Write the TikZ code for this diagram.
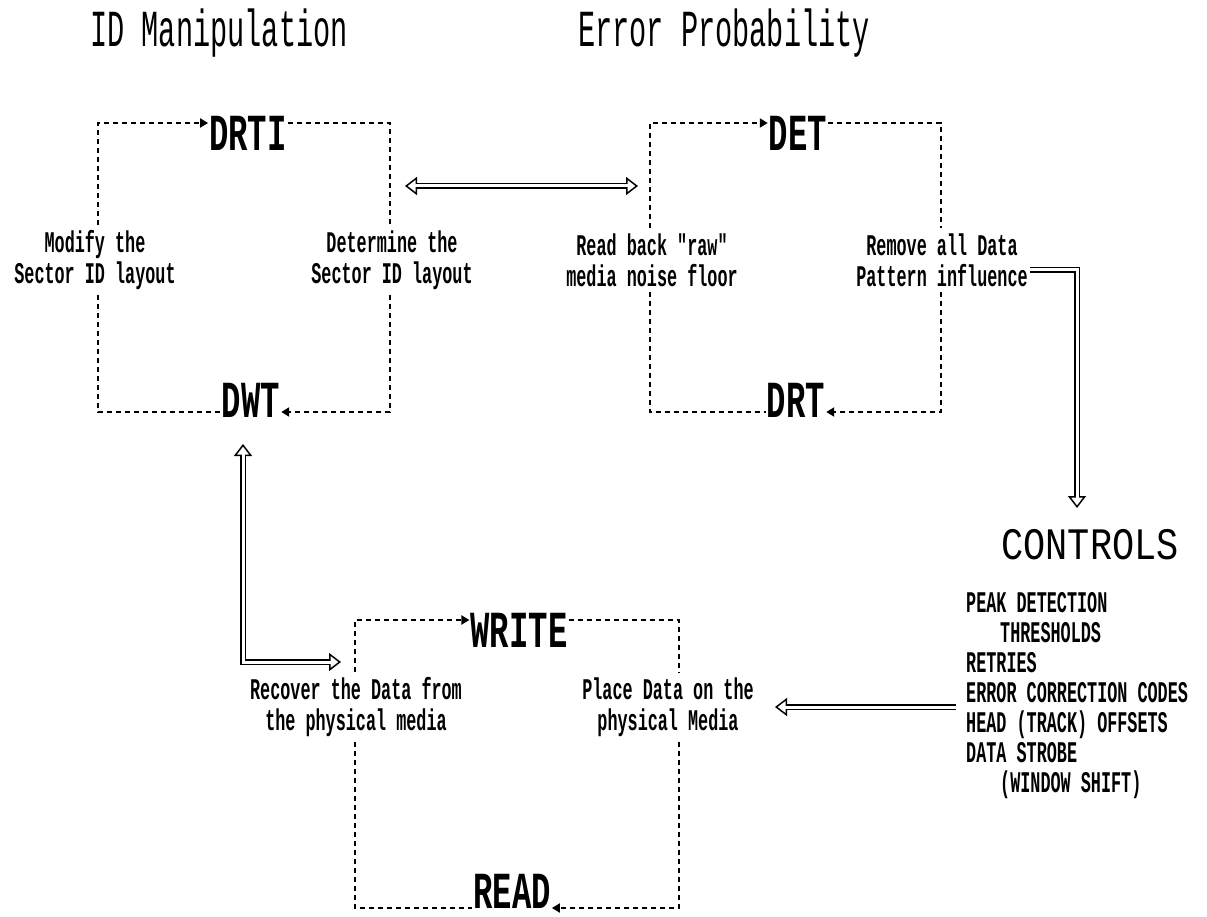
\documentclass[tikz,border=0pt]{standalone}
\usepackage{fontspec}
\usetikzlibrary{arrows.meta}
\newfontfamily\titlefont[FakeStretch=0.55]{Liberation Mono}
\newfontfamily\namefont[FakeStretch=0.62]{Liberation Mono}
\newfontfamily\ctlfont[FakeStretch=0.82]{Liberation Mono}
\newfontfamily\lblfont[FakeStretch=0.56]{Liberation Mono}
\tikzset{
  ttl/.style={font=\titlefont\fontsize{52}{52}\selectfont, inner sep=0pt},
  bname/.style={font=\namefont\bfseries\fontsize{52}{52}\selectfont, inner sep=1pt},
  ctl/.style={font=\ctlfont\fontsize{45}{45}\selectfont, inner sep=0pt},
  lbl/.style={font=\lblfont\bfseries\fontsize{30}{31}\selectfont, align=center, inner sep=5pt},
  lst/.style={font=\lblfont\bfseries\fontsize{30}{30}\selectfont, align=left, inner sep=0pt},
  dsh/.style={line width=2pt, dash pattern=on 5pt off 4pt},
  stip/.style={-{Triangle[length=8pt,width=9pt]}},
  dbl/.style={line width=6pt, line join=miter,
    postaction={draw, white, line width=3pt, -, shorten >=10pt}},
  dblb/.style={line width=6pt, line join=miter,
    postaction={draw, white, line width=3pt, -, shorten >=10pt, shorten <=10pt}},
  htip/.tip={Triangle[open, length=12pt, width=18pt, line width=1.5pt]}
}
\begin{document}
\begin{tikzpicture}[x=1pt,y=-1pt]
\useasboundingbox (0,0) rectangle (1207,917);
% titles
\node[ttl, anchor=base] (t1) at (219,47) {ID Manipulation};
\node[ttl, anchor=base] (t2) at (724,47) {Error Probability};

% ---- box 1
\coordinate (A1) at (98,123);
\coordinate (A2) at (390,123);
\coordinate (A3) at (390,412);
\coordinate (A4) at (98,412);
\node[bname] (drti) at (248,133) {DRTI};
\node[bname] (dwt) at (251,400) {DWT};
\node[lbl] (mod) at (95,260) {Modify the\\Sector ID layout};
\node[lbl] (detm) at (392,260) {Determine the\\Sector ID layout};
\draw[dsh, stip] (A1 |- mod.north) -- (A1) -- (A1 -| drti.west);
\draw[dsh] (A2 -| drti.east) -- (A2) -- (A2 |- detm.north);
\draw[dsh, stip] (A3 |- detm.south) -- (A3) -- (A3 -| dwt.east);
\draw[dsh] (A4 |- mod.south) -- (A4) -- (A4 -| dwt.west);

% ---- box 2
\coordinate (B1) at (650,123);
\coordinate (B2) at (941,123);
\coordinate (B3) at (941,412);
\coordinate (B4) at (650,412);
\node[bname] (det) at (798,133) {DET};
\node[bname] (drt) at (796,400) {DRT};
\node[lbl] (raw) at (652,260) {Read back "raw"\\media noise floor};
\node[lbl] (rem) at (942,260) {Remove all Data\\Pattern influence};
\draw[dsh, stip] (B1 |- raw.north) -- (B1) -- (B1 -| det.west);
\draw[dsh] (B2 -| det.east) -- (B2) -- (B2 |- rem.north);
\draw[dsh, stip] (B3 |- rem.south) -- (B3) -- (B3 -| drt.east);
\draw[dsh] (B4 |- raw.south) -- (B4) -- (B4 -| drt.west);

% ---- box 3
\coordinate (C1) at (355,620);
\coordinate (C2) at (679,620);
\coordinate (C3) at (679,908);
\coordinate (C4) at (355,908);
\node[bname] (write) at (519,630) {WRITE};
\node[bname] (read) at (512,891) {READ};
\node[lbl] (rec) at (356,707) {Recover the Data from\\the physical media};
\node[lbl] (place) at (668,707) {Place Data on the\\physical Media};
\draw[dsh, stip] (C1 |- rec.north) -- (C1) -- (C1 -| write.west);
\draw[dsh] (C2 -| write.east) -- (C2) -- (C2 |- place.north);
\draw[dsh, stip] (C3 |- place.south) -- (C3) -- (C3 -| read.east);
\draw[dsh] (C4 |- rec.south) -- (C4) -- (C4 -| read.west);

% ---- controls
\node[ctl] (ctrl) at (1090,545) {CONTROLS};
\node[lst, anchor=north west] (list) at (966,592) {PEAK DETECTION\\
\hspace*{34pt}THRESHOLDS\\
RETRIES\\
ERROR CORRECTION CODES\\
HEAD (TRACK) OFFSETS\\
DATA STROBE\\
\hspace*{34pt}(WINDOW SHIFT)};

% ---- double arrows
\coordinate (h1) at (405,186);
\coordinate (h2) at (638,186);
\draw[dblb, htip-htip] (h1) -- (h2);

\coordinate (r1) at (1030,270);
\coordinate (r2) at (1077,508);
\draw[dbl, -htip] (r1) -| (r2);

\coordinate (l1) at (243,444);
\coordinate (l2) at (341,662);
\draw[dblb, htip-htip] (l1) |- (l2);

\coordinate (p1) at (956,707);
\coordinate (p2) at (775,707);
\draw[dbl, -htip] (p1) -- (p2);
\end{tikzpicture}
\end{document}
